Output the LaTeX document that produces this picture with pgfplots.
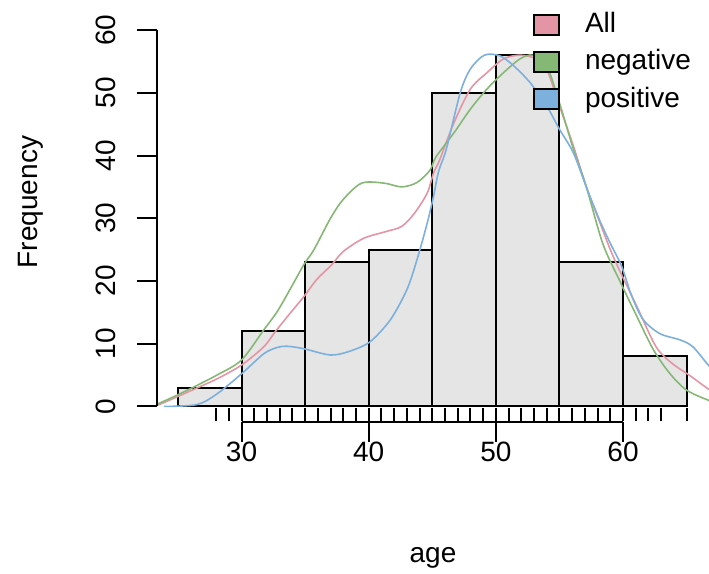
\documentclass[border=0pt]{standalone}
\usepackage{fontspec}
\setmainfont{Liberation Sans}
\usepackage{pgfplots}
\pgfplotsset{compat=1.18}
\definecolor{pinkc}{HTML}{E495A5}
\definecolor{greenc}{HTML}{86B875}
\definecolor{bluec}{HTML}{7DB0DD}
\definecolor{barc}{HTML}{E5E5E5}
\begin{document}
\fontsize{14}{16}\selectfont
\begin{tikzpicture}
\begin{axis}[
  name=ax, scale only axis, width=276pt, height=203.25pt,
  xmin=23.355, xmax=66.76, ymin=-2.4, ymax=62.4,
  axis line style={draw=none},
  clip mode=individual,
  xtick={30,40,50,60}, ytick={0,10,...,60},
  tick align=outside, xtick pos=bottom, ytick pos=left,
  major tick length=10pt,
  tick style={black, line width=1pt},
  /pgf/number format/assume math mode=true,
  ticklabel style={font=\fontsize{14}{16}\selectfont},
  yticklabel style={xshift=-15.5pt, rotate=90, anchor=center},
  xticklabel style={anchor=center, yshift=-5pt},
  xlabel={age}, ylabel={Frequency},
  label style={font=\fontsize{14}{16}\selectfont},
  xlabel style={at={(rel axis cs:0.5,0)}, anchor=center, yshift=-68.25pt},
  ylabel style={at={(rel axis cs:0,0.54)}, anchor=center, yshift=63pt},
  legend image code/.code={\draw[#1] (0pt,-5pt) rectangle (12.5pt,5pt);},
  legend cell align=left,
  legend style={at={(rel axis cs:0.6812,1)}, anchor=north west, yshift=1.35pt,
    draw=none, fill=none, inner sep=0pt, outer sep=0pt,
    row sep=6.4pt, column sep=12.5pt,
    font=\fontsize{14}{16}\selectfont,
    nodes={inner sep=0pt}},
]
% histogram
\addplot[ybar interval, fill=barc, draw=black, line width=1pt, forget plot]
  coordinates {(25,3) (30,12) (35,23) (40,25) (45,50) (50,56) (55,23) (60,8) (65,8)};
% density curves scaled to max 56
\addplot[pinkc, line width=0.8pt, smooth, forget plot] coordinates {
 (22.8,0.05) (23.4,0.2) (25.45,2.0) (28.07,4.4) (30,6.6) (31.75,9.5) (32.65,11.9)
 (33.8,14.8) (34.9,17.5) (35.9,20.2) (37.1,22.6) (38.0,24.7) (39.6,26.8) (41.4,27.9)
 (42.6,28.7) (43.6,30.8) (44.6,34.0) (45.1,37.2) (45.6,39.4) (46.7,45.2) (48.0,50.6)
 (49.3,53.2) (50.6,55.4) (51.9,56) (53.2,55.4) (54.0,53.8) (55.0,47.9) (56.1,41.5)
 (57.1,35.1) (58.2,29.2) (59.0,25.0) (59.7,21.8) (61.1,15.9) (62.6,9.5) (63.9,6.8)
 (65.2,5.0) (66.7,2.8) (67.5,2.0)};
\addplot[greenc, line width=0.8pt, smooth, forget plot] coordinates {
 (22.8,0.1) (23.4,0.4) (25.45,2.3) (28.07,5.0) (30,7.4) (31.75,12.2) (32.8,15.1)
 (33.8,18.6) (34.9,22.6) (35.7,25) (37,30.0) (38.0,33.0) (39.45,35.6) (41.2,35.6)
 (42.6,35.0) (43.8,35.7) (44.8,37.6) (45.3,39.8) (46.7,43.6) (48.0,47.4) (49.3,50.6)
 (50.6,53.2) (51.9,55.4) (52.9,56) (54.0,54.3) (55.0,48.4) (56.1,41) (57.1,35.1)
 (58.4,26.0) (59.7,20.2) (61.1,14.3) (62.4,9.0) (63.7,5.2) (65.0,2.6) (66.7,1.0) (67.5,0.6)};
\addplot[bluec, line width=0.8pt, smooth, forget plot] coordinates {
 (23.9,0.0) (26.5,0.3) (28.07,2.0) (30,5.2) (31.75,8.4) (32.8,9.4) (33.6,9.6) (34.9,9.2)
 (37,8.2) (38.5,8.8) (40.1,10.3) (41.7,13.8) (43.0,18.6) (43.8,23.4) (44.6,29.2)
 (45.1,33.5) (45.5,37.5) (46.1,41) (47.2,50.0) (48.0,53.8) (49.1,56) (50.3,55.9)
 (51.4,54.3) (52.7,51.6) (54.0,47.9) (55.0,44.2) (56.1,40.4) (57.2,34.5) (58.2,29.5)
 (59.0,26.0) (59.9,22.3) (60.7,17.5) (61.6,13.8) (62.9,11.6) (64.5,10.6) (65.5,9.5)
 (66.7,6.6) (67.5,5.0)};
% rug
\addplot[only marks, mark=|, mark size=3.25pt, mark options={black, line width=1pt}, forget plot]
  coordinates {(28,-1.36) (29,-1.36) (30,-1.36) (31,-1.36) (32,-1.36) (33,-1.36) (34,-1.36)
  (35,-1.36) (36,-1.36) (37,-1.36) (38,-1.36) (39,-1.36) (40,-1.36) (41,-1.36) (42,-1.36)
  (43,-1.36) (44,-1.36) (45,-1.36) (46,-1.36) (47,-1.36) (48,-1.36) (49,-1.36) (50,-1.36)
  (51,-1.36) (52,-1.36) (53,-1.36) (54,-1.36) (55,-1.36) (56,-1.36) (57,-1.36) (58,-1.36)
  (59,-1.36) (60,-1.36) (61,-1.36) (62,-1.36) (63,-1.36) (65,-1.36)};
% axis lines (R style: from first to last tick)
\draw[black, line width=1pt] (axis cs:30,-2.4) -- (axis cs:60,-2.4);
\draw[black, line width=1pt] (axis cs:23.355,0) -- (axis cs:23.355,60);
% legend
\addlegendimage{fill=pinkc, draw=black, line width=1pt}
\addlegendentry{All}
\addlegendimage{fill=greenc, draw=black, line width=1pt}
\addlegendentry{negative}
\addlegendimage{fill=bluec, draw=black, line width=1pt}
\addlegendentry{positive}
\end{axis}
\pgfresetboundingbox
\path[use as bounding box] ([xshift=-78.5pt,yshift=-76.25pt]ax.south west) rectangle ([yshift=7.5pt]ax.north east);
\end{tikzpicture}
\end{document}
